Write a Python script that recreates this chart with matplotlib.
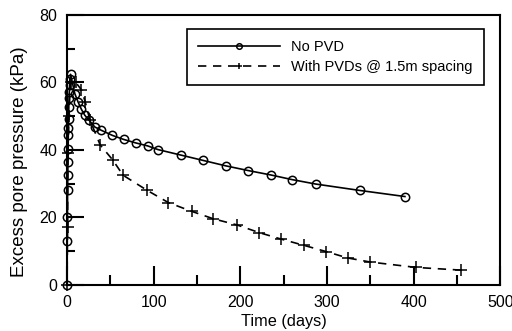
import numpy as np
from matplotlib import pyplot as plt
from matplotlib.ticker import MultipleLocator

plt.rcParams['font.family'] = ['Liberation Sans', 'DejaVu Sans']

# No PVD (circles)
t_nopvd = [0, 0.2, 0.4, 0.6, 0.8, 1.0, 1.2, 1.4, 1.6, 1.8, 2.0, 2.3, 2.6, 2.9, 3.2, 4,
           8.9, 12.7, 16.6, 20.4, 25.4, 32, 39.7, 52.4, 65.5, 79, 93, 105, 131, 157,
           183, 209, 235, 260, 287, 338, 390]
u_nopvd = [0, 12.9, 20.1, 28, 32.5, 36.4, 40.4, 44.4, 46.4, 49.3, 52.8, 55.3, 57.2,
           59.2, 60.9, 62.4, 56.7, 54.2, 52.0, 50.3, 48.8, 46.8, 45.8, 44.3, 43.1,
           42.1, 41.2, 40.1, 38.5, 36.9, 35.3, 33.9, 32.6, 31.2, 29.9, 28.0, 26.2]

# With PVDs @ 1.5m spacing (plus)
t_pvd = [0, 0.5, 1, 2, 4, 10, 16.6, 21, 26.2, 38.2, 52.5, 64.7, 92, 117, 144, 169,
         196, 222, 247, 274, 299, 324, 350, 403, 455]
u_pvd = [0, 17.1, 39, 50, 60, 60, 57.8, 54.2, 49.0, 41.5, 37.1, 32.5, 28.1, 24.4,
         21.8, 19.6, 17.8, 15.5, 13.6, 11.7, 9.9, 8.0, 6.8, 5.2, 4.4]

fig = plt.figure(figsize=(5.12, 3.31), dpi=100)
ax = fig.add_axes([0.131, 0.139, 0.846, 0.816])

ax.plot(t_nopvd, u_nopvd, c='k', lw=1.2, marker='o', ms=6, mfc='none', mew=1.1,
        clip_on=False, label='No PVD')
ax.plot(t_pvd, u_pvd, c='k', lw=1.2, ls=(0, (5, 4)), marker='+', ms=8, mew=1.1,
        clip_on=False, label='With PVDs @ 1.5m spacing')

ax.set_xlim(0, 500)
ax.set_ylim(0, 80)
ax.xaxis.set_major_locator(MultipleLocator(100))
ax.xaxis.set_minor_locator(MultipleLocator(50))
ax.yaxis.set_major_locator(MultipleLocator(20))
ax.yaxis.set_minor_locator(MultipleLocator(10))
ax.tick_params(which='both', direction='in', top=False, right=False, width=1.5,
               labelsize=11.5, colors='k', pad=7)
ax.tick_params(which='major', length=14)
ax.tick_params(which='minor', length=7)
ax.tick_params(axis='y', which='major', length=12)
ax.tick_params(axis='y', which='minor', length=6)
for s in ax.spines.values():
    s.set_linewidth(1.5)

ax.set_xlabel("Time (days)", fontsize=11.7, labelpad=3)
ax.set_ylabel("Excess pore pressure (kPa)", fontsize=13.5)
ax.yaxis.set_label_coords(-0.09, 0.457)

leg = ax.legend(loc='upper right', bbox_to_anchor=(0.962, 0.948), fontsize=10.5,
                handlelength=5.6, handletextpad=0.8, fancybox=False, framealpha=1,
                edgecolor='k', borderpad=0.75, labelspacing=0.4, borderaxespad=0)
leg.get_frame().set_linewidth(1.2)
for h in leg.legend_handles:
    h.set_markersize(4)

plt.savefig("out.png", dpi=100)
